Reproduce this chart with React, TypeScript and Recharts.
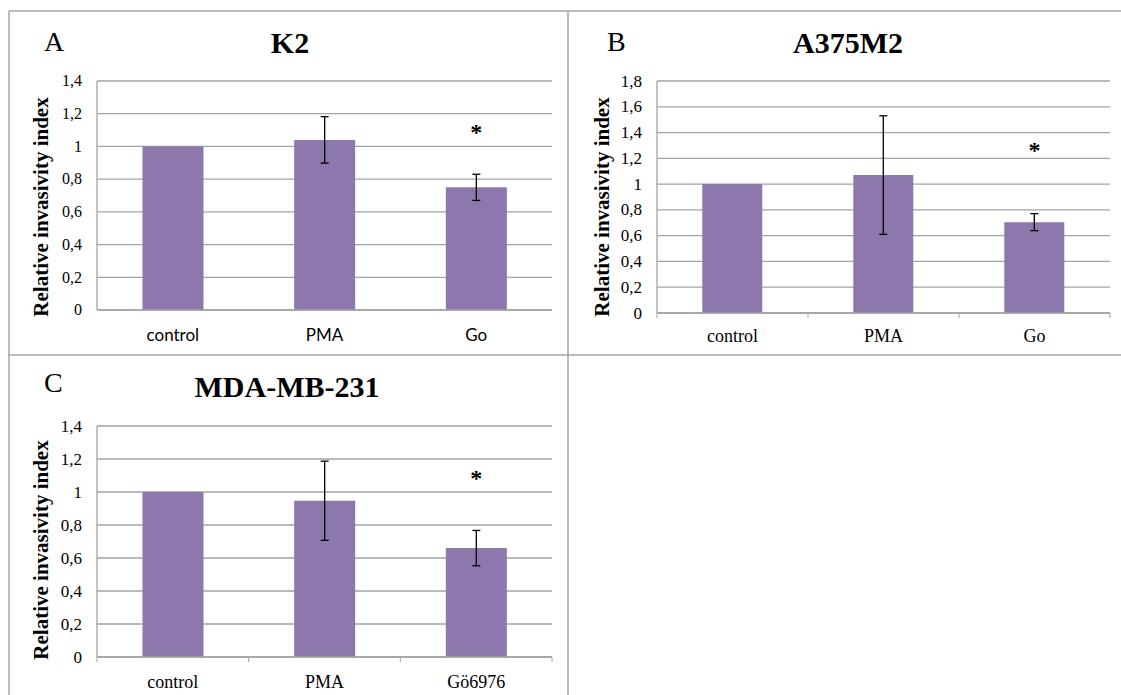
import React from 'react'
import { BarChart, Bar, XAxis, YAxis, CartesianGrid, ErrorBar, ReferenceDot } from 'recharts'

const categoriesAB = ['control', 'PMA', 'Go']
const categoriesC = ['control', 'PMA', 'Gö6976']

const k2Values = [1, 1.04, 0.75]
const k2Errors = [0, 0.142, 0.08]
const a375Values = [1, 1.07, 0.705]
const a375Errors = [0, 0.46, 0.066]
const mdaValues = [1, 0.947, 0.66]
const mdaErrors = [0, 0.24, 0.107]

const ticks14 = [0, 0.2, 0.4, 0.6, 0.8, 1, 1.2, 1.4]
const ticks18 = [0, 0.2, 0.4, 0.6, 0.8, 1, 1.2, 1.4, 1.6, 1.8]

// star over the treated bar: [category, height]
const k2Star: [string, number] = ['Go', 1.1]
const a375Star: [string, number] = ['Go', 1.28]
const mdaStar: [string, number] = ['Gö6976', 1.1]

const SERIF = "'Liberation Serif', 'Times New Roman', serif"
const SANS = "Lato, 'Liberation Sans', sans-serif"
const BAR = '#8c78ad'
const GRID = '#a3a3a3'
const YLABEL = 'Relative invasivity index'

const fmt = (v: number) => String(v).replace('.', ',')

interface PanelProps {
  left: number
  top: number
  width: number
  height: number
  marginTop: number
  marginRight: number
  categories: string[]
  values: number[]
  errors: number[]
  ticks: number[]
  star: [string, number]
  labelX: number
  labelY: number
  yTickSize: number
  xFont: string
  xSize: number
  xDy: number
  boundaryTicks: boolean
}

function Panel(p: PanelProps) {
  const data = p.categories.map((name, i) => ({
    name,
    value: p.values[i],
    err: p.errors[i] ? p.errors[i] : null,
  }))

  const renderXTick = (props: any) => {
    const { x, y, payload, index, visibleTicksCount } = props
    const half = payload?.offset ?? 0
    return (
      <g>
        {p.boundaryTicks && <line x1={x - half} x2={x - half} y1={y} y2={y + 5} stroke={GRID} />}
        {p.boundaryTicks && index === visibleTicksCount - 1 && (
          <line x1={x + half} x2={x + half} y1={y} y2={y + 5} stroke={GRID} />
        )}
        <text x={x} y={y + p.xDy} textAnchor="middle" fontFamily={p.xFont} fontSize={p.xSize} fill="#000">
          {payload.value}
        </text>
      </g>
    )
  }

  const renderYTick = (props: any) => {
    const { x, y, payload } = props
    return (
      <text x={x} y={y + p.yTickSize * 0.33} textAnchor="end" fontFamily={SERIF} fontSize={p.yTickSize} fill="#000">
        {fmt(payload.value)}
      </text>
    )
  }

  return (
    <div style={{ position: 'absolute', left: p.left, top: p.top }}>
      <BarChart
        width={p.width}
        height={p.height}
        data={data}
        margin={{ top: p.marginTop, right: p.marginRight, left: 0, bottom: 0 }}
        barCategoryGap="30%"
      >
        <CartesianGrid vertical={false} stroke={GRID} strokeWidth={1.3} />
        <XAxis
          dataKey="name"
          height={40}
          tickSize={0}
          tickMargin={0}
          axisLine={{ stroke: GRID, strokeWidth: 1.3 }}
          tickLine={false}
          tick={renderXTick}
          interval={0}
        />
        <YAxis
          width={97}
          domain={[0, p.ticks[p.ticks.length - 1]]}
          ticks={p.ticks}
          tickSize={0}
          tickMargin={15}
          tickLine={false}
          axisLine={{ stroke: GRID, strokeWidth: 1.3 }}
          tick={renderYTick}
          interval={0}
          label={() => (
            <text
              x={p.labelX}
              y={p.labelY}
              transform={`rotate(-90 ${p.labelX} ${p.labelY})`}
              textAnchor="middle"
              fontFamily={SERIF}
              fontWeight="bold"
              fontSize={21}
              fill="#000"
            >
              {YLABEL}
            </text>
          )}
        />
        <Bar dataKey="value" fill={BAR} isAnimationActive={false}>
          <ErrorBar dataKey="err" width={4} stroke="#000" strokeWidth={1.3} direction="y" />
        </Bar>
        <ReferenceDot
          x={p.star[0]}
          y={p.star[1]}
          r={0}
          ifOverflow="visible"
          shape={(s: any) => (
            <text x={s.cx} y={s.cy + 10} textAnchor="middle" fontFamily={SERIF} fontWeight="bold" fontSize={24} fill="#000">
              *
            </text>
          )}
        />
      </BarChart>
    </div>
  )
}

export default function App() {
  return (
    <div style={{ position: 'absolute', left: 0, top: 0, width: 1121, height: 695, background: '#fff' }}>
      <svg width={1121} height={695} style={{ position: 'absolute', left: 0, top: 0 }}>
        <line x1={9} x2={1121} y1={11} y2={11} stroke="#a6a6a6" strokeWidth={1.5} />
        <line x1={9} x2={9} y1={11} y2={695} stroke="#a6a6a6" strokeWidth={1.5} />
        <line x1={568} x2={568} y1={11} y2={695} stroke="#a6a6a6" strokeWidth={1.5} />
        <line x1={9} x2={1121} y1={355} y2={355} stroke="#a6a6a6" strokeWidth={1.5} />
        <text x={44} y={51} fontFamily={SERIF} fontSize={28}>A</text>
        <text x={607} y={51} fontFamily={SERIF} fontSize={28}>B</text>
        <text x={44} y={392} fontFamily={SERIF} fontSize={28}>C</text>
        <text x={290} y={53} textAnchor="middle" fontFamily={SERIF} fontWeight="bold" fontSize={30}>K2</text>
        <text x={848} y={53} textAnchor="middle" fontFamily={SERIF} fontWeight="bold" fontSize={30}>A375M2</text>
        <text x={287} y={397} textAnchor="middle" fontFamily={SERIF} fontWeight="bold" fontSize={30}>MDA-MB-231</text>
      </svg>
      <Panel
        left={0} top={60} width={560} height={290} marginTop={21} marginRight={8}
        categories={categoriesAB} values={k2Values} errors={k2Errors} ticks={ticks14} star={k2Star}
        labelX={48} labelY={147} yTickSize={16} xFont={SANS} xSize={17} xDy={31} boundaryTicks={false}
      />
      <Panel
        left={560} top={60} width={560} height={293} marginTop={21} marginRight={10}
        categories={categoriesAB} values={a375Values} errors={a375Errors} ticks={ticks18} star={a375Star}
        labelX={49} labelY={147} yTickSize={17} xFont={SERIF} xSize={18} xDy={29} boundaryTicks={true}
      />
      <Panel
        left={0} top={400} width={560} height={297} marginTop={26} marginRight={8}
        categories={categoriesC} values={mdaValues} errors={mdaErrors} ticks={ticks14} star={mdaStar}
        labelX={48} labelY={150} yTickSize={17} xFont={SERIF} xSize={18} xDy={31} boundaryTicks={true}
      />
    </div>
  )
}
